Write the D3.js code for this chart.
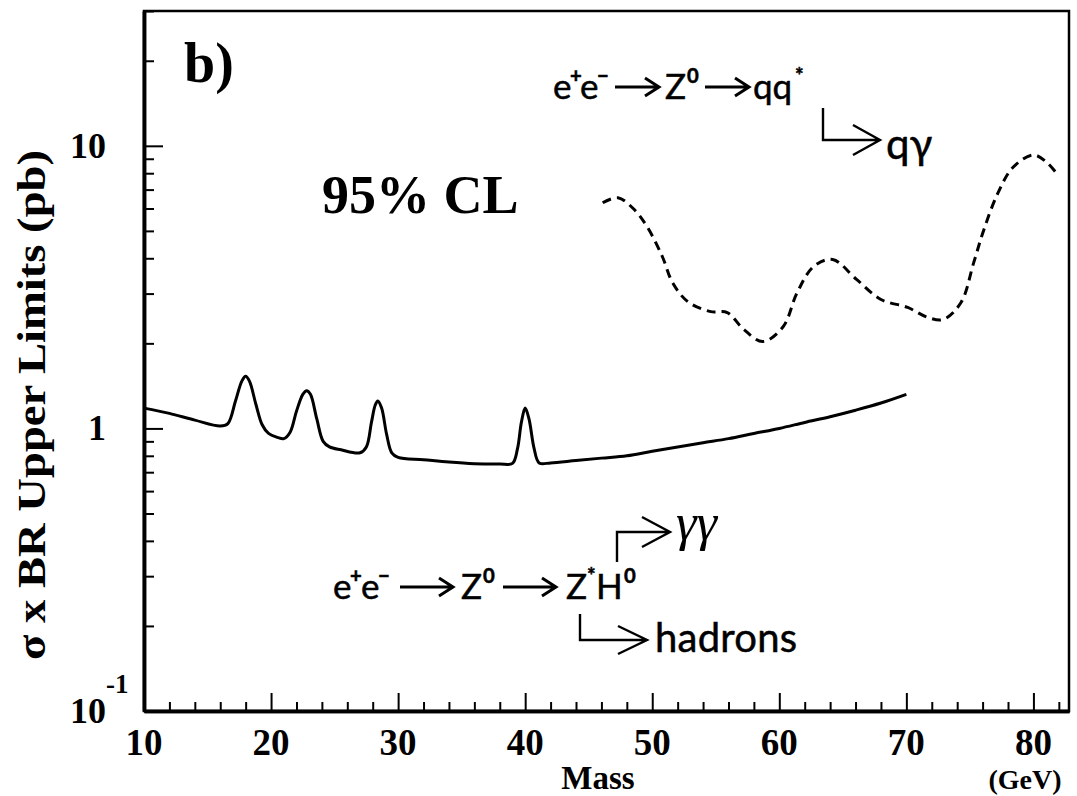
<!DOCTYPE html>
<html>
<head>
<meta charset="utf-8">
<script src="https://cdn.jsdelivr.net/npm/d3@7"></script>
<style>
    body { margin: 0; background: #fff; }
    svg { display: block; }
    .serif { font-family: "Liberation Serif", "DejaVu Serif", serif; font-weight: bold; }
    .sans { font-family: Lato, "DejaVu Sans", sans-serif; stroke: #000; stroke-width: 0.5; }
</style>
</head>
<body>
<svg id="graphSVG" width="1077" height="796"></svg>
<script>
// Data
const massSolid = [10, 12, 14, 16, 16.6, 17.2, 17.7, 18.0, 18.3, 18.8, 19.3, 19.8, 20.5, 21.0, 21.5, 22.0, 22.5, 22.8, 23.1, 23.6, 24.1, 24.6, 25.5, 27.0, 27.5, 27.9, 28.2, 28.4, 28.7, 29.1, 29.5, 30.0, 32, 34, 36, 38, 39.0, 39.4, 39.7, 40.0, 40.3, 40.7, 41.1, 42, 44, 46, 48, 50, 52, 54, 56, 58, 60, 62, 64, 66, 68, 70];
const limitSolid = [1.18, 1.13, 1.07, 1.02, 1.04, 1.25, 1.47, 1.53, 1.47, 1.22, 1.03, 0.96, 0.93, 0.92, 0.97, 1.15, 1.32, 1.36, 1.32, 1.08, 0.90, 0.86, 0.84, 0.82, 0.86, 1.05, 1.21, 1.25, 1.18, 0.95, 0.82, 0.79, 0.775, 0.76, 0.75, 0.748, 0.752, 0.85, 1.05, 1.18, 1.08, 0.85, 0.755, 0.755, 0.77, 0.785, 0.80, 0.83, 0.86, 0.89, 0.92, 0.96, 1.0, 1.05, 1.1, 1.16, 1.23, 1.32];

const massDashed = [46.1, 47.3, 48.5, 49.6, 50.8, 51.6, 52.8, 54.6, 55.9, 57.2, 58.7, 60.3, 61.4, 62.7, 64.2, 66.1, 68.0, 70.1, 71.7, 72.9, 74.3, 75.3, 76.1, 77.2, 78.4, 80.0, 81.1, 82.0];
const limitDashed = [6.29, 6.55, 6.0, 5.17, 4.05, 3.28, 2.81, 2.59, 2.57, 2.24, 2.03, 2.29, 3.02, 3.74, 3.96, 3.36, 2.86, 2.68, 2.47, 2.43, 2.79, 3.86, 5.05, 6.8, 8.4, 9.28, 8.7, 7.8];

const xMajor = [10, 20, 30, 40, 50, 60, 70, 80];
const xLabels = ["10", "20", "30", "40", "50", "60", "70", "80"];
const yMajor = [0.1, 1, 10];
const yLabels = [["10", "-1"], ["1", ""], ["10", ""]];

const svg = d3.select('svg');

const pLeft = 144, pRight = 1069, pTop = 11, pBottom = 711;

const xScale = d3.scaleLinear()
    .domain([10, 82.8])
    .range([pLeft, pRight]);

const yScale = d3.scaleLog()
    .domain([0.1, 30])
    .range([pBottom, pTop]);

// minor ticks
const xMinor = d3.range(10, 83, 2).filter(d => d % 10 != 0);
const yMinor = yScale.ticks().filter(d => !yMajor.some(m => Math.abs(m - d) < 1e-9));

// frame
svg.append('rect')
    .attr('x', pLeft).attr('y', pTop)
    .attr('width', pRight - pLeft).attr('height', pBottom - pTop)
    .attr('fill', 'none').attr('stroke', '#000').attr('stroke-width', 2.5);

const xAxis = svg.append('g')
    .attr('transform', `translate(0, ${pBottom})`);
xAxis.call(d3.axisBottom(xScale).tickValues(xMajor).tickSize(-18).tickSizeOuter(0).tickFormat(''));
xAxis.append('g').call(d3.axisBottom(xScale).tickValues(xMinor).tickSize(-9).tickSizeOuter(0).tickFormat(''));

const yAxis = svg.append('g')
    .attr('transform', `translate(${pLeft}, 0)`);
yAxis.call(d3.axisLeft(yScale).tickValues(yMajor).tickSize(-19).tickSizeOuter(0).tickFormat(''));
yAxis.append('g').call(d3.axisLeft(yScale).tickValues(yMinor).tickSize(-10).tickSizeOuter(0).tickFormat(''));

svg.selectAll('.domain').attr('stroke-width', 3.5);
svg.selectAll('.tick line').attr('stroke-width', 2);

// tick labels
svg.selectAll('.xlab')
    .data(xMajor)
    .enter()
    .append('text')
    .attr('class', 'serif')
    .attr('x', d => xScale(d))
    .attr('y', 755)
    .attr('text-anchor', 'middle')
    .attr('font-size', 37)
    .text((d, i) => xLabels[i]);

svg.selectAll('.ylab')
    .data(yMajor)
    .enter()
    .append('text')
    .attr('class', 'serif')
    .attr('x', 106)
    .attr('y', d => yScale(d) + 12)
    .attr('text-anchor', 'end')
    .attr('font-size', 36)
    .text((d, i) => yLabels[i][0]);

svg.append('text')
    .attr('class', 'serif')
    .attr('x', 106)
    .attr('y', yScale(0.1) - 18)
    .attr('font-size', 27)
    .text(yLabels[0][1]);

// axis titles
svg.append('text')
    .attr('class', 'serif')
    .attr('x', 598).attr('y', 789)
    .attr('text-anchor', 'middle')
    .attr('font-size', 33)
    .text('Mass');

svg.append('text')
    .attr('class', 'serif')
    .attr('x', 1025).attr('y', 789)
    .attr('text-anchor', 'middle')
    .attr('font-size', 28)
    .text('(GeV)');

svg.append('text')
    .attr('class', 'serif')
    .attr('transform', 'translate(45, 405) rotate(-90)')
    .attr('text-anchor', 'middle')
    .attr('font-size', 39)
    .attr('textLength', 510)
    .attr('lengthAdjust', 'spacingAndGlyphs')
    .text('σ x BR Upper Limits (pb)');

svg.append('text')
    .attr('class', 'serif')
    .attr('x', 184).attr('y', 82)
    .attr('font-size', 56)
    .text('b)');

svg.append('text')
    .attr('class', 'serif')
    .attr('x', 322).attr('y', 213)
    .attr('font-size', 54)
    .text('95% CL');

// curves
const line = d3.line()
    .x(d => xScale(d[0]))
    .y(d => yScale(d[1]))
    .curve(d3.curveCatmullRom.alpha(0.5));

svg.append('path')
    .datum(massSolid.map((m, i) => [m, limitSolid[i]]))
    .attr('d', line)
    .attr('fill', 'none')
    .attr('stroke', '#000')
    .attr('stroke-width', 3);

svg.append('path')
    .datum(massDashed.map((m, i) => [m, limitDashed[i]]))
    .attr('d', line)
    .attr('fill', 'none')
    .attr('stroke', '#000')
    .attr('stroke-width', 3)
    .attr('stroke-dasharray', '9,6');

// reaction labels
function formula(pieces, base, size) {
    pieces.forEach(p => {
        if (p.arrow) {
            svg.append('path')
                .attr('d', `M${p.x},${base - 12} H${p.arrow} M${p.arrow - 14},${base - 21} L${p.arrow},${base - 12} L${p.arrow - 14},${base - 3}`)
                .attr('fill', 'none').attr('stroke', '#000').attr('stroke-width', 3);
        } else {
            svg.append('text')
                .attr('class', 'sans')
                .attr('x', p.x)
                .attr('y', p.sup ? base - 16 : base)
                .attr('font-size', p.sup ? size * 0.58 : size)
                .attr('font-weight', p.sup ? 'bold' : 'normal')
                .text(p.t);
        }
    });
}

function bracket(d) {
    svg.append('path')
        .attr('d', d)
        .attr('fill', 'none').attr('stroke', '#000').attr('stroke-width', 2.4);
}

formula([
    { t: 'e', x: 553 }, { t: '+', x: 570, sup: true }, { t: 'e', x: 580 }, { t: '−', x: 597, sup: true },
    { x: 615, arrow: 659 },
    { t: 'Z', x: 665 }, { t: '0', x: 687, sup: true },
    { x: 705, arrow: 749 },
    { t: 'qq', x: 753 }, { t: '*', x: 795, sup: true }
], 99, 35);

bracket('M823,108 V140 H878 M853,125 L880,140 L853,155');
svg.append('text')
    .attr('class', 'sans')
    .attr('x', 886).attr('y', 159)
    .attr('font-size', 42)
    .text('qγ');

formula([
    { t: 'e', x: 333 }, { t: '+', x: 350, sup: true }, { t: 'e', x: 361 }, { t: '−', x: 378, sup: true },
    { x: 400, arrow: 453 },
    { t: 'Z', x: 461 }, { t: '0', x: 483, sup: true },
    { x: 503, arrow: 556 },
    { t: 'Z', x: 566 }, { t: '*', x: 587, sup: true }, { t: 'H', x: 596 }, { t: '0', x: 624, sup: true }
], 599, 35);

bracket('M617,562 V532 H668 M642,517 L670,532 L642,547');
svg.append('text')
    .attr('x', 676).attr('y', 540)
    .attr('font-family', '"Liberation Serif", serif')
    .attr('font-style', 'italic')
    .attr('font-size', 52)
    .text('γγ');

bracket('M580,614 V640 H645 M618,626 L647,640 L618,654');
svg.append('text')
    .attr('class', 'sans')
    .attr('x', 655).attr('y', 652)
    .attr('font-size', 40)
    .attr('textLength', 142)
    .text('hadrons');
</script>
</body>
</html>
